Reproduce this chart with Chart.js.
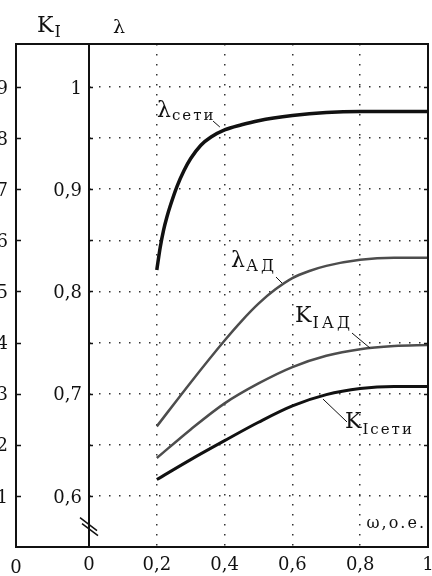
<!DOCTYPE html>
<html><head><meta charset="utf-8">
<script src="https://cdn.jsdelivr.net/npm/chart.js@4"></script>
<style>
html,body{margin:0;padding:0;background:#fff;overflow:hidden;width:432px;height:576px;position:relative}
#c{position:absolute;left:-22px;top:0}
</style></head>
<body><canvas id="c" width="454" height="576"></canvas>
<script>
// ---- tick data ----
const omegaTicks = [0, 0.2, 0.4, 0.6, 0.8, 1];
const omegaTickLabels = ['0', '0,2', '0,4', '0,6', '0,8', '1'];
const lambdaTicks = [0.6, 0.65, 0.7, 0.75, 0.8, 0.85, 0.9, 0.95, 1.0];
const lambdaTickLabels = ['0,6', '', '0,7', '', '0,8', '', '0,9', '', '1'];
const kTicks = [0.1, 0.2, 0.3, 0.4, 0.5, 0.6, 0.7, 0.8, 0.9];
const kTickLabels = ['0,1', '0,2', '0,3', '0,4', '0,5', '0,6', '0,7', '0,8', '0,9'];

// ---- series data ----
const omegaLambdaSeti = [0.2, 0.21, 0.22, 0.23, 0.24, 0.26, 0.28, 0.3, 0.33, 0.36, 0.4, 0.45, 0.5, 0.6, 0.7, 0.8, 1.0];
const lambdaSeti      = [0.821, 0.843, 0.860, 0.873, 0.884, 0.903, 0.918, 0.930, 0.943, 0.951, 0.958, 0.963, 0.967, 0.972, 0.975, 0.976, 0.976];

const omegaLambdaAD = [0.2, 0.3, 0.4, 0.45, 0.5, 0.55, 0.6, 0.65, 0.7, 0.8, 0.9, 1.0];
const lambdaAD      = [0.668, 0.711, 0.752, 0.771, 0.788, 0.802, 0.813, 0.820, 0.825, 0.831, 0.833, 0.833];

const omegaKIAD = [0.2, 0.3, 0.4, 0.5, 0.6, 0.7, 0.8, 0.9, 1.0];
const kIAD      = [0.174, 0.230, 0.281, 0.320, 0.352, 0.374, 0.387, 0.393, 0.395];

const omegaKISeti = [0.2, 0.3, 0.4, 0.5, 0.6, 0.7, 0.8, 0.9, 1.0];
const kISeti      = [0.132, 0.171, 0.208, 0.244, 0.276, 0.298, 0.310, 0.314, 0.314];

// ---- label texts ----
const labelMain = ['λ', 'λ', 'K', 'K'];
const labelSub  = ['сети', 'АД', 'IАД', 'Iсети'];
const axisTitleK = ['K', 'I'];
const axisTitleLambda = 'λ';
const omegaTitle = 'ω,о.е.';

const F = '"DejaVu Serif", serif';
const pts = (xs, ys) => xs.map((x, i) => ({x: x, y: ys[i]}));

function drawSub(ctx, main, sub, x, y, mainSize, subSize, dy, ls) {
  ctx.letterSpacing = '0px';
  ctx.font = mainSize + 'px ' + F;
  ctx.fillText(main, x, y);
  const w = ctx.measureText(main).width;
  ctx.font = subSize + 'px ' + F;
  ctx.letterSpacing = ls + 'px';
  ctx.fillText(sub, x + w + 1, y + dy);
  ctx.letterSpacing = '0px';
}

const decor = {
  id: 'decor',
  afterDraw(chart) {
    const ctx = chart.ctx;
    const a = chart.chartArea;
    const sx = chart.scales.x, sy = chart.scales.y, sk = chart.scales.yK;
    const kx = sk.right;
    const P = (x, l) => [sx.getPixelForValue(x), sy.getPixelForValue(l)];
    ctx.save();
    ctx.strokeStyle = '#111';
    ctx.fillStyle = '#111';
    ctx.lineCap = 'butt';
    // frame
    ctx.lineWidth = 2;
    ctx.beginPath();
    ctx.moveTo(kx, a.top); ctx.lineTo(a.right, a.top);
    ctx.moveTo(kx, a.bottom); ctx.lineTo(a.right, a.bottom);
    ctx.moveTo(kx, a.top - 1); ctx.lineTo(kx, a.bottom + 1);
    ctx.moveTo(a.left, a.top - 1); ctx.lineTo(a.left, a.bottom + 1);
    ctx.moveTo(a.right, a.top - 1); ctx.lineTo(a.right, a.bottom + 1);
    ctx.stroke();
    // inward ticks
    ctx.lineWidth = 1.5;
    ctx.beginPath();
    kTicks.forEach(v => { const y = Math.round(sk.getPixelForValue(v)) + 0.5; ctx.moveTo(kx, y); ctx.lineTo(kx + 5, y); });
    lambdaTicks.forEach(v => { const y = Math.round(sy.getPixelForValue(v)) + 0.5; ctx.moveTo(a.left, y); ctx.lineTo(a.left + 4, y); ctx.moveTo(a.right - 4, y); ctx.lineTo(a.right, y); });
    ctx.stroke();
    // axis break mark
    const by = sy.getPixelForValue(0.57);
    ctx.lineWidth = 1.5;
    ctx.beginPath();
    ctx.moveTo(a.left - 9, by - 9); ctx.lineTo(a.left + 8, by + 4);
    ctx.moveTo(a.left - 7, by - 3); ctx.lineTo(a.left + 9, by + 9);
    ctx.stroke();
    // bottom "0" under K_I axis
    ctx.font = '18px ' + F;
    ctx.textAlign = 'center';
    ctx.textBaseline = 'alphabetic';
    ctx.fillText('0', kx, a.bottom + 26);
    ctx.textAlign = 'left';
    // header titles
    drawSub(ctx, axisTitleK[0], axisTitleK[1], kx + 21, a.top - 12, 22, 16, 5, 0);
    ctx.font = '19px ' + F;
    ctx.fillText(axisTitleLambda, a.left + 24, a.top - 11);
    // curve labels (anchors in data units: omega, lambda)
    const anchors = [[0.2006, 0.9706, 22, 15, 3, 2], [0.419, 0.8239, 22, 16, 4, 3], [0.6077, 0.770, 22, 16, 6, 3], [0.755, 0.6664, 22, 15, 6, 2]];
    anchors.forEach((an, i) => {
      const [x, y] = P(an[0], an[1]);
      drawSub(ctx, labelMain[i], labelSub[i], x, y, an[2], an[3], an[4], an[5]);
    });
    // leader lines
    const leaders = [[0.366, 0.9666, 0.386, 0.9608], [0.5516, 0.8141, 0.5693, 0.8082], [0.7758, 0.7593, 0.8289, 0.7446], [0.6903, 0.6947, 0.7611, 0.6723]];
    ctx.lineWidth = 1;
    ctx.beginPath();
    leaders.forEach(l => { const p1 = P(l[0], l[1]), p2 = P(l[2], l[3]); ctx.moveTo(p1[0], p1[1]); ctx.lineTo(p2[0], p2[1]); });
    ctx.stroke();
    // omega title
    const [ox, oy] = P(0.994, 0.5686);
    ctx.font = '16px ' + F;
    ctx.letterSpacing = '2px';
    ctx.textAlign = 'right';
    ctx.fillText(omegaTitle, ox, oy);
    ctx.restore();
  }
};

const gridDash = [1.5, 8.5];
new Chart(document.getElementById('c'), {
  type: 'line',
  data: {
    datasets: [
      {data: pts(omegaLambdaSeti, lambdaSeti), yAxisID: 'y', borderColor: '#111', borderWidth: 3.5},
      {data: pts(omegaLambdaAD, lambdaAD), yAxisID: 'y', borderColor: '#4d4d4d', borderWidth: 2.5},
      {data: pts(omegaKIAD, kIAD), yAxisID: 'yK', borderColor: '#4d4d4d', borderWidth: 2.5},
      {data: pts(omegaKISeti, kISeti), yAxisID: 'yK', borderColor: '#111', borderWidth: 3}
    ]
  },
  options: {
    responsive: false,
    animation: false,
    devicePixelRatio: 1,
    layout: {padding: {top: 44, right: 4, left: 0, bottom: 0}},
    elements: {point: {radius: 0}, line: {cubicInterpolationMode: 'monotone', fill: false}},
    plugins: {legend: {display: false}, tooltip: {enabled: false}},
    scales: {
      x: {
        type: 'linear', position: 'bottom', min: 0, max: 1,
        afterBuildTicks: s => { s.ticks = omegaTicks.map(v => ({value: v})); },
        afterFit: s => { s.height = 29; s.paddingLeft = 0; s.paddingRight = 0; },
        ticks: {callback: (v, i) => omegaTickLabels[i], font: {family: 'DejaVu Serif', size: 18}, color: '#111', padding: 8, maxRotation: 0, autoSkip: false},
        grid: {color: c => (c.tick && c.tick.value > 0 && c.tick.value < 1) ? '#333' : 'rgba(0,0,0,0)', lineWidth: 1.5, drawTicks: false},
        border: {display: false, dash: gridDash}
      },
      yK: {
        type: 'linear', position: 'left', weight: 1, min: 0, max: 0.984,
        afterBuildTicks: s => { s.ticks = kTicks.map(v => ({value: v})); },
        afterFit: s => { s.width = 38; s.paddingTop = 0; s.paddingBottom = 0; },
        ticks: {callback: (v, i) => kTickLabels[i], font: {family: 'DejaVu Serif', size: 18}, color: '#111', padding: 8, labelOffset: 2, autoSkip: false},
        grid: {drawOnChartArea: false, drawTicks: false},
        border: {display: false}
      },
      y: {
        type: 'linear', position: 'left', weight: 0, min: 0.55, max: 1.042,
        afterBuildTicks: s => { s.ticks = lambdaTicks.map(v => ({value: v})); },
        afterFit: s => { s.width = 73; s.paddingTop = 0; s.paddingBottom = 0; },
        ticks: {callback: (v, i) => lambdaTickLabels[i], font: {family: 'DejaVu Serif', size: 18}, color: '#111', padding: 7, labelOffset: 2, autoSkip: false},
        grid: {color: '#333', lineWidth: 1.5, drawTicks: false},
        border: {display: false, dash: gridDash}
      }
    }
  },
  plugins: [decor]
});
</script>
</body></html>
